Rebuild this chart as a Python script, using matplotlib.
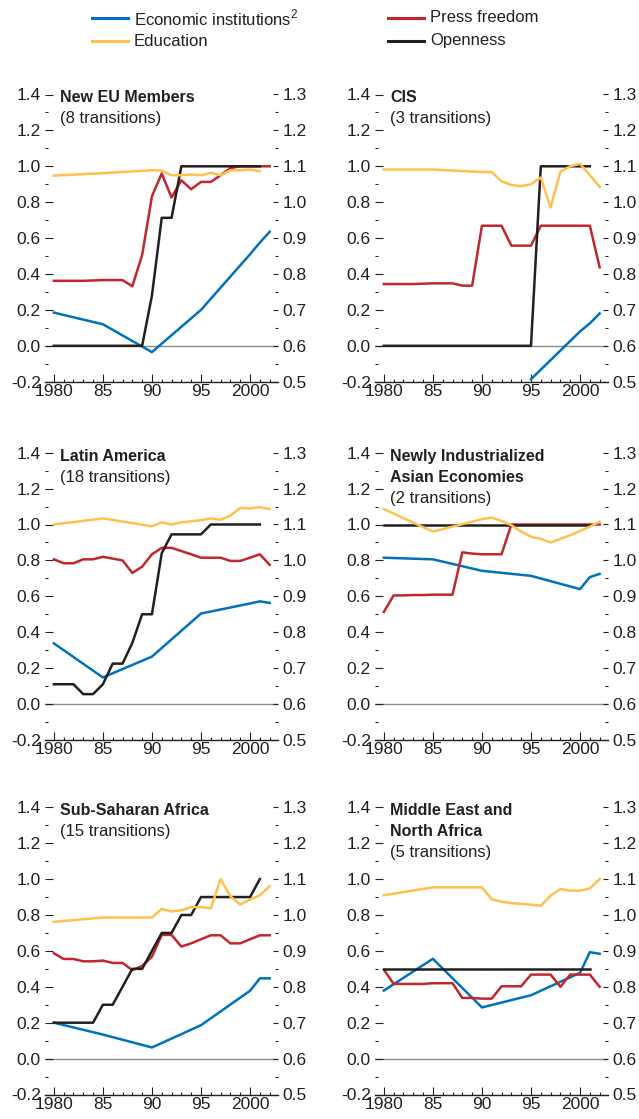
import matplotlib
matplotlib.use("Agg")
import matplotlib.pyplot as plt
from matplotlib.lines import Line2D
from matplotlib.ticker import MultipleLocator, FixedLocator

plt.rcParams["font.family"] = ["Liberation Sans", "DejaVu Sans"]

# ---- data ----
years = list(range(1980, 2003))          # press freedom, 1980-2002
open_years = list(range(1980, 2002))     # openness, 1980-2001
econ_years = [1980, 1985, 1990, 1995, 2000, 2001, 2002]
educ_years = [1980, 1985] + list(range(1990, 2003))

# New EU Members
eu_econ = [0.185, 0.12, -0.035, 0.20, 0.51, 0.575, 0.635]
eu_press = [0.362, 0.362, 0.362, 0.362, 0.364, 0.366, 0.366, 0.366, 0.332, 0.505, 0.833,
            0.96, 0.826, 0.922, 0.872, 0.913, 0.913, 0.95, 0.99, 1.0, 1.0, 1.0, 1.0]
eu_open = [0, 0, 0, 0, 0, 0, 0, 0, 0, 0, 0.28, 0.713, 0.713,
           1.0, 1.0, 1.0, 1.0, 1.0, 1.0, 1.0, 1.0, 1.0]
eu_educ = [1.074, 1.081, 1.089, 1.088, 1.075, 1.075, 1.077, 1.075, 1.082, 1.075,
           1.089, 1.089, 1.091, 1.086]  # ends 2001

# CIS
cis_econ_years = [1995, 2000, 2001, 2002]
cis_econ = [-0.186, 0.08, 0.125, 0.18]
cis_press = [0.344, 0.344, 0.344, 0.344, 0.346, 0.348, 0.348, 0.348, 0.335, 0.335, 0.669,
             0.669, 0.669, 0.558, 0.558, 0.558, 0.669, 0.669, 0.669, 0.669, 0.669, 0.669, 0.437]
cis_open = [0] * 16 + [1.0] * 6
cis_educ = [1.091, 1.091, 1.084, 1.084, 1.058, 1.048, 1.045, 1.05, 1.069, 0.985,
            1.085, 1.1, 1.107, 1.075, 1.043]

# Latin America
la_econ = [0.338, 0.148, 0.264, 0.504, 0.56, 0.572, 0.563]
la_press = [0.806, 0.784, 0.784, 0.806, 0.806, 0.82, 0.81, 0.80, 0.73, 0.765, 0.834,
            0.87, 0.87, 0.852, 0.834, 0.815, 0.815, 0.815, 0.797, 0.797, 0.815, 0.834, 0.775]
la_open = [0.11, 0.11, 0.11, 0.055, 0.055, 0.11, 0.225, 0.225, 0.34, 0.50, 0.50,
           0.84, 0.945, 0.945, 0.945, 0.945, 1.0, 1.0, 1.0, 1.0, 1.0, 1.0]
la_educ = [1.1, 1.117, 1.095, 1.106, 1.1, 1.106, 1.109, 1.112, 1.117, 1.113,
           1.125, 1.146, 1.145, 1.148, 1.143]

# Newly Industrialized Asian Economies
nie_econ = [0.815, 0.806, 0.742, 0.714, 0.64, 0.707, 0.725]
nie_press = [0.513, 0.605, 0.605, 0.607, 0.607, 0.609, 0.609, 0.609, 0.845, 0.838, 0.834,
             0.834, 0.834, 1.0, 1.0, 1.0, 1.0, 1.0, 1.0, 1.0, 1.0, 1.0, 1.0]
nie_open = [1.0] * 22
nie_educ = [1.143, 1.08, 1.115, 1.119, 1.11, 1.098, 1.08, 1.066, 1.06, 1.05,
            1.06, 1.07, 1.082, 1.094, 1.108]

# Sub-Saharan Africa
ssa_econ = [0.2, 0.134, 0.062, 0.186, 0.378, 0.447, 0.447]
ssa_press = [0.587, 0.555, 0.555, 0.542, 0.542, 0.546, 0.533, 0.533, 0.493, 0.516, 0.568,
             0.689, 0.689, 0.624, 0.642, 0.665, 0.687, 0.687, 0.642, 0.642, 0.665, 0.687, 0.687]
ssa_open = [0.2, 0.2, 0.2, 0.2, 0.2, 0.3, 0.3, 0.4, 0.5, 0.5, 0.6,
            0.7, 0.7, 0.8, 0.8, 0.9, 0.9, 0.9, 0.9, 0.9, 0.9, 1.0]
ssa_educ = [0.981, 0.993, 0.993, 1.017, 1.01, 1.013, 1.022, 1.022, 1.019, 1.1,
            1.052, 1.029, 1.043, 1.055, 1.08]

# Middle East and North Africa
mena_econ = [0.379, 0.556, 0.285, 0.353, 0.478, 0.593, 0.584]
mena_press = [0.496, 0.416, 0.416, 0.416, 0.416, 0.42, 0.42, 0.42, 0.338, 0.338, 0.334,
              0.334, 0.403, 0.403, 0.403, 0.468, 0.468, 0.468, 0.4, 0.468, 0.468, 0.468, 0.4]
mena_open = [0.5] * 22
mena_educ = [1.055, 1.077, 1.077, 1.044, 1.037, 1.033, 1.031, 1.029, 1.026, 1.054,
             1.072, 1.068, 1.068, 1.074, 1.1]

panels = [
    ("New EU Members", "(8 transitions)", econ_years, eu_econ, eu_press, eu_open, eu_educ),
    ("CIS", "(3 transitions)", cis_econ_years, cis_econ, cis_press, cis_open, cis_educ),
    ("Latin America", "(18 transitions)", econ_years, la_econ, la_press, la_open, la_educ),
    ("Newly Industrialized\nAsian Economies", "(2 transitions)", econ_years, nie_econ,
     nie_press, nie_open, nie_educ),
    ("Sub-Saharan Africa", "(15 transitions)", econ_years, ssa_econ, ssa_press, ssa_open, ssa_educ),
    ("Middle East and\nNorth Africa", "(5 transitions)", econ_years, mena_econ, mena_press,
     mena_open, mena_educ),
]

BLUE = "#0072bc"
YELLOW = "#ffc04f"
RED = "#c1272d"
BLACK = "#231f20"
TXT = "#231f20"
LW = 1.8
FS = 12.5

W, H = 639, 1119
fig = plt.figure(figsize=(W / 100, H / 100), dpi=100)

col_x = [45, 375]
row_top = [94.5, 452.7, 807.3]
ax_w, ax_h = 233, 287.2

for i, (title, sub, ey, econ, press, opn, educ) in enumerate(panels):
    x0 = col_x[i % 2]
    top = row_top[i // 2]
    ax = fig.add_axes([x0 / W, 1 - (top + ax_h) / H, ax_w / W, ax_h / H])
    ax.patch.set_visible(False)

    ax.axhline(0, color="#8c8c8c", lw=1.0, zorder=1)
    ax.plot(ey, econ, color=BLUE, lw=LW, zorder=2)
    ax.plot(years, press, color=RED, lw=LW, zorder=3)
    ax.plot(open_years, opn, color=BLACK, lw=LW, zorder=4)

    ax.set_xlim(1979.1, 2002.85)
    ax.set_ylim(-0.2, 1.4)
    for s in ["top", "left", "right"]:
        ax.spines[s].set_visible(False)
    ax.spines["bottom"].set_color(TXT)
    ax.spines["bottom"].set_linewidth(1.0)

    ax.xaxis.set_major_locator(FixedLocator([1980, 1985, 1990, 1995, 2000]))
    ax.set_xticklabels(["1980", "85", "90", "95", "2000"])
    ax.xaxis.set_minor_locator(MultipleLocator(1))
    ax.tick_params(axis="x", which="major", direction="in", length=5.5, width=0.8,
                   color=TXT, labelsize=FS, labelcolor=TXT, pad=1.5)
    ax.tick_params(axis="x", which="minor", direction="in", length=2.5, width=0.8, color=TXT)

    ax.yaxis.set_major_locator(MultipleLocator(0.2))
    ax.yaxis.set_minor_locator(MultipleLocator(0.1))
    ax.yaxis.set_major_formatter(plt.FormatStrFormatter("%.1f"))
    ax.tick_params(axis="y", which="major", direction="in", length=5.5, width=0.8,
                   color=TXT, labelsize=FS, labelcolor=TXT, pad=3)
    ax.tick_params(axis="y", which="minor", direction="in", length=2.5, width=0.8, color=TXT)

    ax2 = ax.twinx()
    ax2.plot(educ_years[:len(educ)], educ, color=YELLOW, lw=LW)
    ax2.set_ylim(0.5, 1.3)
    for s in ax2.spines.values():
        s.set_visible(False)
    ax2.yaxis.set_major_locator(MultipleLocator(0.1))
    ax2.yaxis.set_minor_locator(MultipleLocator(0.05))
    ax2.yaxis.set_major_formatter(plt.FormatStrFormatter("%.1f"))
    ax2.tick_params(axis="y", which="major", direction="in", length=3.8, width=0.8,
                    color=TXT, labelsize=FS, labelcolor=TXT, pad=3)
    ax2.tick_params(axis="y", which="minor", direction="in", length=2, width=0.8, color=TXT)

    lines = title.split("\n")
    for k, ln in enumerate(lines):
        ax2.annotate(ln, xy=(0, 1), xycoords="axes fraction", xytext=(15, -8 - 21 * k),
                     textcoords="offset pixels", ha="left", va="baseline",
                     fontsize=11.5, fontweight="bold", color=TXT)
    ax2.annotate(sub, xy=(0, 1), xycoords="axes fraction",
                 xytext=(15, -8 - 21 * len(lines)), textcoords="offset pixels",
                 ha="left", va="baseline", fontsize=12, color=TXT)

# legend at the top
legend_items = [
    (92, 18, BLUE, "Economic institutions$^{\\mathregular{2}}$"),
    (92, 41, YELLOW, "Education"),
    (388, 18, RED, "Press freedom"),
    (388, 41, BLACK, "Openness"),
]
for lx, ly, c, lab in legend_items:
    fig.add_artist(Line2D([lx / W, (lx + 36) / W], [1 - ly / H, 1 - ly / H],
                          transform=fig.transFigure, color=c, lw=2.2))
    fig.text((lx + 42) / W, 1 - ly / H, lab, va="center", ha="left", fontsize=12, color=TXT)

fig.savefig("out.png", dpi=100)
